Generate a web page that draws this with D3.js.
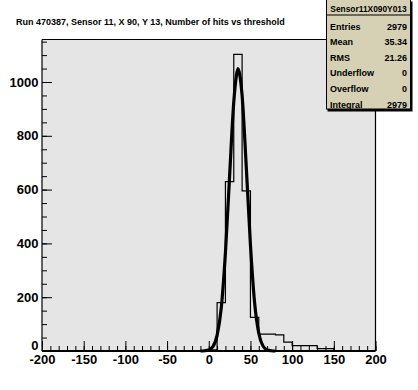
<!DOCTYPE html>
<html><head><meta charset="utf-8">
<script src="https://cdn.jsdelivr.net/npm/d3@7"></script>
<style>
html,body{margin:0;padding:0;background:#fff;}
svg{display:block;font-family:"Liberation Sans",Arial,sans-serif;}
</style></head>
<body><svg id="c" width="418" height="390"></svg>
<script>
// ---- data ----
const title = "Run 470387, Sensor 11, X 90, Y 13, Number of hits vs threshold";
const binLowEdges = [0,10,20,30,40,50,60,70,80,90,100,110,120,130,140];
const binCounts   = [4,180,630,1103,595,125,63,63,60,33,20,20,20,9,9];
const fitX = [-10,-5,0,5,10,15,20,25,30,33,35,37,40,45,50,55,60,65,70,75,80];
const fitY = [0,1,4,16,58,160,365,650,925,1020,1050,1030,950,685,395,180,66,19,4,1,0];
const xTicks = [-200,-150,-100,-50,0,50,100,150,200];
const yTicks = [0,200,400,600,800,1000];
const statsTitle = "Sensor11X090Y013";
const statsLabels = ["Entries","Mean","RMS","Underflow","Overflow","Integral"];
const statsValues = ["2979","35.34","21.26","0","0","2979"];

// ---- layout ----
const svg = d3.select("#c");
const X0 = 42, X1 = 375.5, Y0 = 39.5, Y1 = 351;
const x = d3.scaleLinear().domain([-200,200]).range([X0,X1]);
const y = d3.scaleLinear().domain([0,1158]).range([Y1,Y0]);

// title
svg.append("text").attr("x",16).attr("y",25)
  .attr("font-size",9).attr("font-weight","bold").attr("fill","#000")
  .text(title);

// frame background
svg.append("rect").attr("x",X0).attr("y",Y0).attr("width",X1-X0).attr("height",Y1-Y0)
  .attr("fill","#e5e5e5");

// histogram path including empty bins
const pts = [];
const binW = 10;
for (let b=-200; b<200; b+=binW){
  const i = binLowEdges.indexOf(b);
  pts.push([b, i>=0 ? binCounts[i] : 0]);
}
pts.push([200, 0]);
svg.append("path").datum(pts)
  .attr("d", d3.line().x(d=>x(d[0])).y(d=>y(d[1])).curve(d3.curveStepAfter))
  .attr("fill","none").attr("stroke","#000").attr("stroke-width",1.2);

// fit curve
svg.append("path").datum(fitX.map((v,i)=>[v,fitY[i]]))
  .attr("d", d3.line().x(d=>x(d[0])).y(d=>y(d[1])).curve(d3.curveMonotoneX))
  .attr("fill","none").attr("stroke","#000").attr("stroke-width",3.2).attr("stroke-linejoin","round");

// axes
const fontAx = 13;
const gx = svg.append("g").attr("transform",`translate(0,${Y1})`);
gx.call(d3.axisBottom(x).tickValues(d3.range(-200,201,10)).tickSize(-5).tickFormat(""));
const gxM = svg.append("g").attr("transform",`translate(0,${Y1})`);
gxM.call(d3.axisBottom(x).tickValues(xTicks).tickSize(-10).tickPadding(4).tickFormat(d=>String(d)));
const gy = svg.append("g").attr("transform",`translate(${X0},0)`);
gy.call(d3.axisLeft(y).tickValues(d3.range(0,1151,50)).tickSize(-5).tickFormat(""));
const gyM = svg.append("g").attr("transform",`translate(${X0},0)`);
gyM.call(d3.axisLeft(y).tickValues(yTicks).tickSize(-10).tickPadding(3.5).tickFormat(d=>String(d)));
svg.selectAll(".domain").remove();
svg.selectAll(".tick line").attr("stroke","#000").attr("stroke-width",1);
svg.selectAll(".tick text").attr("font-size",fontAx).attr("font-weight","bold")
  .attr("font-family","'Liberation Sans',Arial,sans-serif").attr("fill","#000");
// the y "0" label sits slightly above its tick, as in the reference
gyM.selectAll(".tick").filter(d=>d===0).select("text").attr("y",-6);

// frame lines
svg.append("line").attr("x1",X0).attr("x2",X1).attr("y1",Y0).attr("y2",Y0).attr("stroke","#000").attr("stroke-width",1.2);
svg.append("line").attr("x1",X0).attr("x2",X0).attr("y1",Y0).attr("y2",Y1).attr("stroke","#000").attr("stroke-width",1.2);
svg.append("line").attr("x1",X1).attr("x2",X1).attr("y1",Y0).attr("y2",Y1).attr("stroke","#000").attr("stroke-width",1.2);
svg.append("line").attr("x1",X0).attr("x2",X1).attr("y1",Y1).attr("y2",Y1).attr("stroke","#000").attr("stroke-width",2);

// stats box
const sb = svg.append("g").attr("transform","translate(326,0)");
const SW = 85, SH = 110;
sb.append("rect").attr("x",1.5).attr("y",1.5).attr("width",SW).attr("height",SH).attr("fill","#000");
sb.append("rect").attr("x",0.5).attr("y",-1).attr("width",SW-1).attr("height",SH).attr("fill","#d6d0b4")
  .attr("stroke","#000").attr("stroke-width",1);
sb.append("line").attr("x1",0.5).attr("x2",SW-0.5).attr("y1",15).attr("y2",15).attr("stroke","#000");
sb.append("text").attr("x",SW/2).attr("y",11.5).attr("text-anchor","middle")
  .attr("font-size",8.4).attr("font-weight","bold").text(statsTitle);
statsLabels.forEach((l,i)=>{
  const yy = 29.5 + i*15.6;
  sb.append("text").attr("x",4).attr("y",yy).attr("font-size",9).attr("font-weight","bold").text(l);
  sb.append("text").attr("x",SW-4).attr("y",yy).attr("text-anchor","end").attr("font-size",9).attr("font-weight","bold").text(statsValues[i]);
});
</script></body></html>
